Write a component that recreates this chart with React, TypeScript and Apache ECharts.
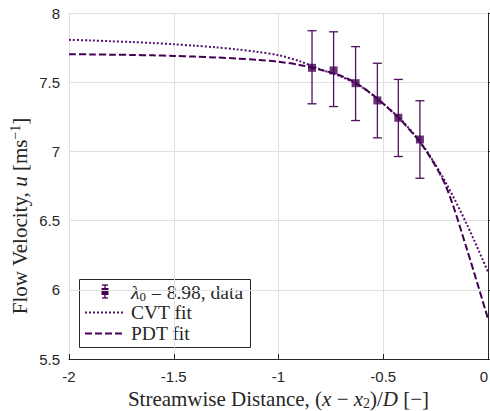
import React, { useEffect, useRef } from "react";
import * as echarts from "echarts";

// ---- Data ----
const dataX = [-0.84, -0.737, -0.632, -0.528, -0.428, -0.325];
const dataY = [7.604, 7.585, 7.493, 7.368, 7.243, 7.086];
const dataLow = [7.344, 7.324, 7.223, 7.098, 6.963, 6.806];
const dataHigh = [7.872, 7.864, 7.757, 7.637, 7.52, 7.366];

const fitX = [-2, -1.9, -1.8, -1.7, -1.6, -1.5, -1.4, -1.3, -1.2, -1.1, -1.0, -0.9, -0.8, -0.7, -0.6, -0.5, -0.4, -0.3, -0.2, -0.1, 0];
const cvtY = [7.806, 7.802, 7.796, 7.79, 7.783, 7.774, 7.764, 7.752, 7.737, 7.719, 7.695, 7.652, 7.592, 7.54, 7.462, 7.345, 7.205, 7.02, 6.77, 6.47, 6.13];
const pdtY = [7.702, 7.701, 7.699, 7.697, 7.694, 7.69, 7.685, 7.679, 7.671, 7.661, 7.648, 7.625, 7.59, 7.545, 7.465, 7.345, 7.2, 7.015, 6.745, 6.29, 5.79];

const xTickLabels = ["-2", "-1.5", "-1", "-0.5", "0"];
const yTickLabels = ["5.5", "6", "6.5", "7", "7.5", "8"];
const xTickValues = [-2, -1.5, -1, -0.5, 0];
const yTickValues = [5.5, 6, 6.5, 7, 7.5, 8];

const PURPLE = "#440154";
const PURPLE2 = "#55126f";
const AX = "#262626";
const SERIF = "'Liberation Serif', serif";
const SANS = "'Liberation Sans', Arial, sans-serif";
const TITLE_FS = 21;
const LEG_FS = 19.5;

export default function App() {
  const ref = useRef<HTMLDivElement>(null);
  useEffect(() => {
    if (!ref.current) return;
    const chart = echarts.init(ref.current, undefined, { renderer: "svg" });
    const richTitle = {
      i: { fontFamily: SERIF, fontStyle: "italic", fontSize: TITLE_FS, color: AX },
      sub: { fontFamily: SERIF, fontSize: 14, color: AX, padding: [8, 0, 0, 0] },
    };
    const richTitleFill = {
      i: { fontFamily: SERIF, fontStyle: "italic", fontSize: TITLE_FS, fill: AX },
      sup: { fontFamily: SERIF, fontSize: 14, fill: AX, padding: [0, 0, 9, 0] },
    };
    const option: any = {
      animation: false,
      backgroundColor: "#ffffff",
      grid: { left: 69, right: 2, top: 13, bottom: 52, containLabel: false, outerBoundsMode: "none" },
      xAxis: {
        type: "value",
        min: -2,
        max: 0,
        interval: 0.5,
        name: "Streamwise Distance, ({i|x} − {i|x}{sub|2})/{i|D} [−]",
        nameLocation: "middle",
        nameGap: 27,
        nameTextStyle: { fontFamily: SERIF, fontSize: TITLE_FS, color: AX, rich: richTitle },
        axisLine: { show: true, lineStyle: { color: AX, width: 1 } },
        axisTick: { show: true, inside: true, length: 5, lineStyle: { color: AX } },
        axisLabel: {
          fontFamily: SANS,
          fontSize: 15,
          color: AX,
          margin: 10,
          alignMaxLabel: "right",
          formatter: (v: number) => {
            const k = xTickValues.findIndex((t) => Math.abs(t - v) < 1e-9);
            return k >= 0 ? xTickLabels[k] : "";
          },
        },
        splitLine: { show: true, lineStyle: { color: "#e0e0e0", width: 1 } },
      },
      yAxis: {
        type: "value",
        min: 5.5,
        max: 8,
        interval: 0.5,
        axisLine: { show: true, lineStyle: { color: AX, width: 1 } },
        axisTick: { show: true, inside: true, length: 5, lineStyle: { color: AX } },
        axisLabel: {
          fontFamily: SANS,
          fontSize: 15,
          color: AX,
          margin: 9,
          formatter: (v: number) => {
            const k = yTickValues.findIndex((t) => Math.abs(t - v) < 1e-9);
            return k >= 0 ? yTickLabels[k] : "";
          },
        },
        splitLine: { show: true, lineStyle: { color: "#e0e0e0", width: 1 } },
      },
      series: [
        {
          type: "line",
          name: "CVT fit",
          data: fitX.map((x, i) => [x, cvtY[i]]),
          showSymbol: false,
          smooth: 0.3,
          lineStyle: { color: PURPLE2, width: 2, type: [2, 2] },
          z: 3,
        },
        {
          type: "line",
          name: "PDT fit",
          data: fitX.map((x, i) => [x, pdtY[i]]),
          showSymbol: false,
          smooth: 0.3,
          lineStyle: { color: PURPLE, width: 2, type: [7, 3] },
          z: 3,
        },
        {
          type: "custom",
          name: "errors",
          data: dataX.map((x, i) => [x, dataLow[i], dataHigh[i]]),
          renderItem: (params: any, api: any) => {
            const lo = api.coord([api.value(0), api.value(1)]);
            const hi = api.coord([api.value(0), api.value(2)]);
            const w = 4.5;
            const st = { stroke: "#4d1160", lineWidth: 1.3 };
            return {
              type: "group",
              children: [
                { type: "line", shape: { x1: lo[0], y1: lo[1], x2: hi[0], y2: hi[1] }, style: st },
                { type: "line", shape: { x1: lo[0] - w, y1: lo[1], x2: lo[0] + w, y2: lo[1] }, style: st },
                { type: "line", shape: { x1: hi[0] - w, y1: hi[1], x2: hi[0] + w, y2: hi[1] }, style: st },
              ],
            };
          },
          z: 4,
        },
        {
          type: "scatter",
          name: "data",
          data: dataX.map((x, i) => [x, dataY[i]]),
          symbol: "rect",
          symbolSize: 8,
          itemStyle: { color: PURPLE },
          z: 5,
        },
      ],
      graphic: [
        {
          type: "text",
          x: 20,
          y: 216,
          rotation: Math.PI / 2,
          z: 100,
          style: {
            text: "Flow Velocity, {i|u} [ms{sup|−1}]",
            fontFamily: SERIF,
            fontSize: TITLE_FS,
            fill: AX,
            align: "center",
            verticalAlign: "middle",
            rich: richTitleFill,
          },
        },
        {
          type: "group",
          left: 79,
          top: 279,
          z: 100,
          children: [
            {
              type: "rect",
              shape: { x: 0.5, y: 0.5, width: 171, height: 68 },
              style: { fill: "#ffffff", stroke: AX, lineWidth: 1 },
            },
            // data icon
            { type: "line", shape: { x1: 26, y1: 6, x2: 26, y2: 19 }, style: { stroke: PURPLE, lineWidth: 1.3 } },
            { type: "line", shape: { x1: 23, y1: 6, x2: 29, y2: 6 }, style: { stroke: PURPLE, lineWidth: 1.3 } },
            { type: "line", shape: { x1: 23, y1: 19, x2: 29, y2: 19 }, style: { stroke: PURPLE, lineWidth: 1.3 } },
            { type: "rect", shape: { x: 22.5, y: 9, width: 7, height: 7 }, style: { fill: PURPLE } },
            {
              type: "text",
              x: 52,
              y: 13,
              style: {
                text: "{i|λ}{sub|0} = 8.98, data",
                fontFamily: SERIF,
                fontSize: LEG_FS,
                fill: AX,
                verticalAlign: "middle",
                rich: {
                  i: { fontFamily: SERIF, fontStyle: "italic", fontSize: LEG_FS, fill: AX },
                  sub: { fontFamily: SERIF, fontSize: 13, fill: AX, padding: [8, 0, 0, 0] },
                },
              },
            },
            {
              type: "line",
              shape: { x1: 6, y1: 33.5, x2: 46, y2: 33.5 },
              style: { stroke: PURPLE2, lineWidth: 2, lineDash: [2, 2] },
            },
            {
              type: "text",
              x: 52,
              y: 33.5,
              style: { text: "CVT fit", fontFamily: SERIF, fontSize: LEG_FS, fill: AX, verticalAlign: "middle" },
            },
            {
              type: "line",
              shape: { x1: 6, y1: 54.5, x2: 46, y2: 54.5 },
              style: { stroke: PURPLE, lineWidth: 2, lineDash: [7, 3] },
            },
            {
              type: "text",
              x: 52,
              y: 54.5,
              style: { text: "PDT fit", fontFamily: SERIF, fontSize: LEG_FS, fill: AX, verticalAlign: "middle" },
            },
          ],
        },
      ],
    };
    chart.setOption(option);
    return () => chart.dispose();
  }, []);
  return <div ref={ref} style={{ width: 490, height: 411, position: "absolute", left: 0, top: 0 }} />;
}
